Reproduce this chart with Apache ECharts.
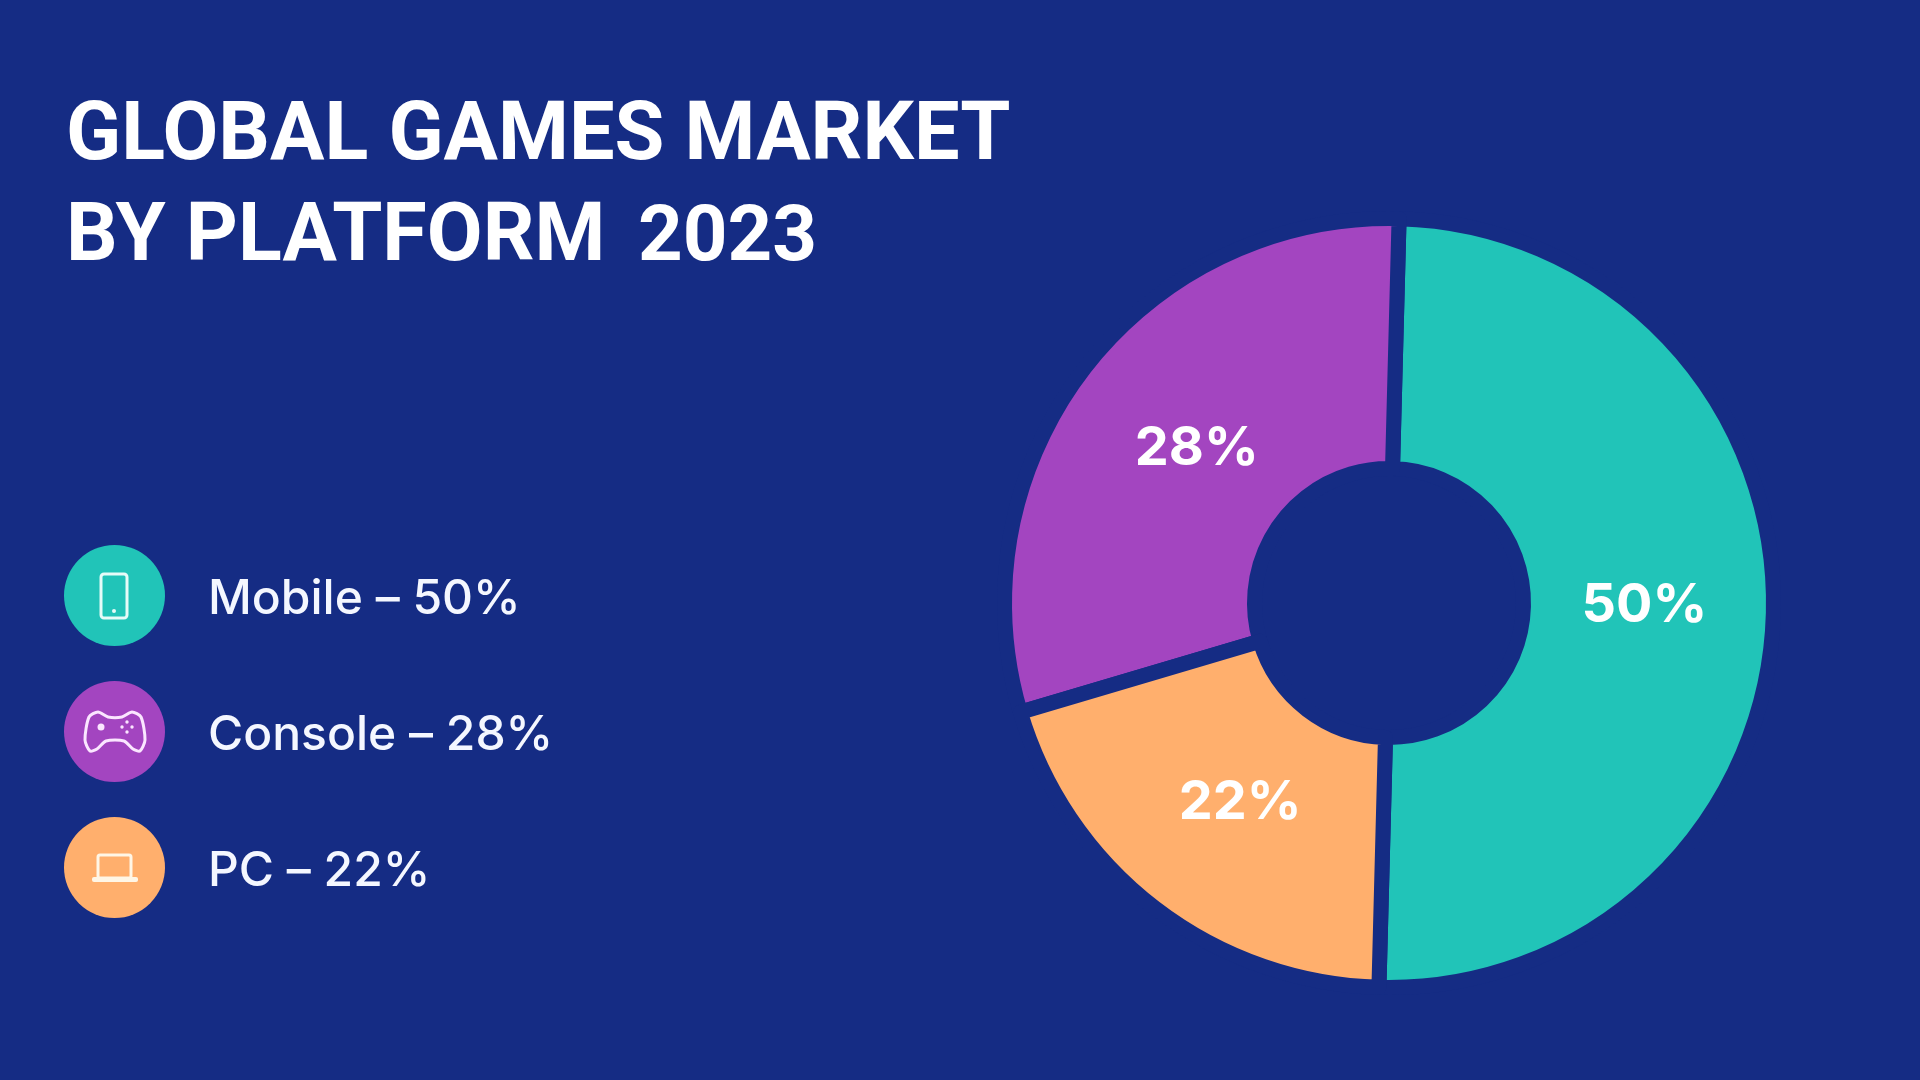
<!DOCTYPE html>
<html>
<head>
<meta charset="utf-8">
<title>Global games market by platform 2023</title>
<style>
  html, body { margin: 0; padding: 0; background: #152c84; }
  #main { width: 1920px; height: 1080px; }
</style>
<script src="https://cdn.jsdelivr.net/npm/echarts@6/dist/echarts.min.js"></script>
</head>
<body>
<div id="main"></div>
<script>
// values
const categories = ['Mobile', 'Console', 'PC'];
const printedShares = [50, 28, 22];  // what the labels say
const drawnShares = [50, 30, 20];    // what the slice angles measure in the picture
const colors = ['#21c4b8', '#a345c0', '#ffaf6d'];
const titleLines = ['GLOBAL GAMES MARKET', 'BY PLATFORM'];
const titleYear = '2023';

const bg = '#152c84';
const labelOffsets = [[-7, -4], [16, 6], [11, -8]];

let chart = echarts.init(document.getElementById('main'));

const legendNames = {};
categories.forEach((c, i) => { legendNames[c] = '{t|' + c + ' – ' + printedShares[i] + '%}'; });

const phoneInk = '#e6fbf8';
const padInk = '#fbe6ff';
const laptopInk = '#fff6e6';

chart.setOption({
  backgroundColor: bg,
  animation: false,
  title: [
    { text: titleLines[0], left: 61, top: 93, textStyle: { color: '#fff', fontFamily: 'Roboto', fontWeight: 'bold', fontSize: 81 } },
    { text: titleLines[1], left: 61, top: 194, textStyle: { color: '#fff', fontFamily: 'Roboto', fontWeight: 'bold', fontSize: 81 } },
    { text: titleYear, left: 633, top: 196, textStyle: { color: '#fff', fontFamily: 'Roboto', fontWeight: 'bold', fontSize: 78 } }
  ],
  legend: {
    orient: 'vertical',
    left: 59,
    top: 540,
    itemWidth: 101,
    itemHeight: 101,
    itemGap: 35,
    icon: 'circle',
    data: categories,
    formatter: name => legendNames[name],
    itemStyle: { borderWidth: 0 },
    textStyle: {
      rich: {
        t: { color: '#f4f7ff', fontFamily: 'Inter', fontWeight: 500, fontSize: 48, padding: [8, 0, 0, 38] }
      }
    }
  },
  series: [
    {
      type: 'pie',
      center: [1389, 603],
      radius: [134.5, 384.5],
      startAngle: -91.5,
      clockwise: false,
      silent: true,
      itemStyle: { borderColor: bg, borderWidth: 15 },
      labelLine: { show: false },
      data: categories.map((name, i) => ({
        name: name,
        value: drawnShares[i],
        itemStyle: { color: colors[i] },
        label: {
          show: true,
          position: 'inside',
          formatter: printedShares[i] + '%',
          offset: labelOffsets[i],
          color: '#fff',
          fontFamily: 'Inter',
          fontWeight: 'bold',
          fontSize: 54
        }
      }))
    }
  ],
  graphic: [
    // phone
    { type: 'rect', z: 10, shape: { x: 101, y: 574, width: 26, height: 44, r: 3 }, style: { stroke: phoneInk, lineWidth: 3, fill: 'transparent' } },
    { type: 'circle', z: 10, shape: { cx: 114, cy: 611, r: 2 }, style: { fill: phoneInk } },
    // gamepad
    { type: 'polygon', z: 10, shape: { smooth: 0.25, points: [[98, 712], [89, 717], [85, 740], [90, 751], [97, 749], [106, 741], [124, 741], [133, 749], [140, 751], [145, 740], [141, 717], [132, 712], [122, 717], [108, 717]] }, style: { stroke: padInk, lineWidth: 3, fill: 'transparent' } },
    { type: 'circle', z: 10, shape: { cx: 101, cy: 727, r: 3.5 }, style: { fill: padInk } },
    { type: 'circle', z: 10, shape: { cx: 127, cy: 722, r: 1.7 }, style: { fill: padInk } },
    { type: 'circle', z: 10, shape: { cx: 127, cy: 732, r: 1.7 }, style: { fill: padInk } },
    { type: 'circle', z: 10, shape: { cx: 122, cy: 727, r: 1.7 }, style: { fill: padInk } },
    { type: 'circle', z: 10, shape: { cx: 132, cy: 727, r: 1.7 }, style: { fill: padInk } },
    // laptop
    { type: 'rect', z: 10, shape: { x: 98, y: 855, width: 33, height: 23, r: 2 }, style: { stroke: laptopInk, lineWidth: 3, fill: 'transparent' } },
    { type: 'rect', z: 10, shape: { x: 92, y: 877, width: 46, height: 5, r: 2 }, style: { fill: laptopInk } }
  ]
});
</script>
</body>
</html>
